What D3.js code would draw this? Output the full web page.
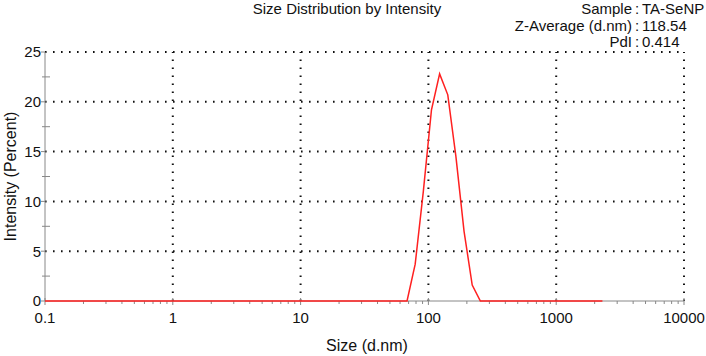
<!DOCTYPE html>
<html>
<head>
<meta charset="utf-8">
<script src="https://cdn.jsdelivr.net/npm/d3@7"></script>
<style>
  body { margin: 0; background: #fff; }
  text { font-family: "Liberation Sans", Arial, sans-serif; fill: #111; }
</style>
</head>
<body>
<div id="chart"></div>
<script>
// size classes (d.nm) and intensity (%)
const sizes = [0.1, 68.06, 78.82, 91.28, 105.7, 122.4, 141.8, 164.2, 190.1, 220.2, 255.0, 2300];
const intensity = [0, 0, 3.7, 11.0, 19.2, 22.8, 20.7, 14.5, 7.0, 1.6, 0, 0];

const xTicks = [0.1, 1, 10, 100, 1000, 10000];
const yTicks = [0, 5, 10, 15, 20, 25];
const yMinor = [2.5, 7.5, 12.5, 17.5, 22.5];

const infoLabels = ["Sample", "Z-Average (d.nm)", "PdI"];
const infoValues = ["TA-SeNP", "118.54", "0.414"];

const width = 706, height = 356;
const margin = {top: 52, right: 22, bottom: 55, left: 45};

const svg = d3.select("#chart").append("svg")
    .attr("width", width)
    .attr("height", height);

const x = d3.scaleLog()
    .domain([0.1, 10000])
    .range([margin.left, width - margin.right]);

const y = d3.scaleLinear()
    .domain([0, 25])
    .range([height - margin.bottom, margin.top]);

// dotted grid
const grid = svg.append("g");
grid.selectAll("line.gx")
    .data(xTicks.slice(1))
    .enter().append("line")
    .attr("class", "gx")
    .attr("x1", d => x(d)).attr("x2", d => x(d))
    .attr("y1", y(0)).attr("y2", y(25))
    .attr("stroke", "#111").attr("stroke-width", 2)
    .attr("stroke-dasharray", "1.6,6.4");
grid.selectAll("line.gy")
    .data(yTicks.slice(1))
    .enter().append("line")
    .attr("class", "gy")
    .attr("x1", x(0.1)).attr("x2", x(10000))
    .attr("y1", d => y(d)).attr("y2", d => y(d))
    .attr("stroke", "#111").attr("stroke-width", 2)
    .attr("stroke-dasharray", "1.6,6.4");

// y axis
const yAxis = svg.append("g").attr("stroke", "#888");
yAxis.append("line")
    .attr("x1", x(0.1)).attr("x2", x(0.1))
    .attr("y1", y(0)).attr("y2", y(25));
yAxis.selectAll("line.ymaj")
    .data(yTicks)
    .enter().append("line")
    .attr("x1", x(0.1) - 4).attr("x2", x(0.1))
    .attr("y1", d => y(d)).attr("y2", d => y(d));
yAxis.selectAll("line.ymin")
    .data(yMinor)
    .enter().append("line")
    .attr("x1", x(0.1) - 3).attr("x2", x(0.1) + 5)
    .attr("y1", d => y(d)).attr("y2", d => y(d));

svg.selectAll("text.ytick")
    .data(yTicks)
    .enter().append("text")
    .attr("class", "ytick")
    .attr("x", x(0.1) - 4)
    .attr("y", d => y(d))
    .attr("dy", "0.36em")
    .attr("text-anchor", "end")
    .style("font-size", "15px")
    .text(d => d);

// x axis
const xMinor = [];
for (let dec = 0.1; dec < 10000; dec *= 10) {
    for (let m = 2; m <= 9; m++) xMinor.push(+(dec * m).toPrecision(3));
}
const xAxis = svg.append("g").attr("stroke", "#888");
xAxis.append("line")
    .attr("x1", x(0.1)).attr("x2", x(10000))
    .attr("y1", y(0)).attr("y2", y(0));
xAxis.selectAll("line.xmin")
    .data(xMinor)
    .enter().append("line")
    .attr("x1", d => x(d)).attr("x2", d => x(d))
    .attr("y1", y(0)).attr("y2", y(0) + 3);
xAxis.selectAll("line.xmaj")
    .data(xTicks)
    .enter().append("line")
    .attr("x1", d => x(d)).attr("x2", d => x(d))
    .attr("y1", y(0) - 3).attr("y2", y(0) + 4);

svg.selectAll("text.xtick")
    .data(xTicks)
    .enter().append("text")
    .attr("class", "xtick")
    .attr("x", d => x(d))
    .attr("y", y(0) + 22)
    .attr("text-anchor", "middle")
    .style("font-size", "15px")
    .text(d => d);

// the distribution
const line = d3.line()
    .x((d, i) => x(sizes[i]))
    .y(d => y(d));

svg.append("path")
    .datum(intensity)
    .attr("d", line)
    .attr("fill", "none")
    .attr("stroke", "#ff2020")
    .attr("stroke-width", 1.5);

// titles
svg.append("text")
    .attr("x", 347).attr("y", 14)
    .attr("text-anchor", "middle")
    .style("font-size", "15px")
    .text("Size Distribution by Intensity");

svg.append("text")
    .attr("x", 367).attr("y", 351)
    .attr("text-anchor", "middle")
    .style("font-size", "16px")
    .text("Size (d.nm)");

svg.append("text")
    .attr("transform", `translate(16,${(y(0) + y(25)) / 2}) rotate(-90)`)
    .attr("text-anchor", "middle")
    .style("font-size", "16px")
    .text("Intensity (Percent)");

// sample info, aligned on the colon
const colonX = 637;
const info = svg.append("g").style("font-size", "15px");
info.selectAll("text.lab")
    .data(infoLabels)
    .enter().append("text")
    .attr("x", colonX - 5)
    .attr("y", (d, i) => 14 + i * 16.5)
    .attr("text-anchor", "end")
    .text(d => d);
info.selectAll("text.colon")
    .data(infoLabels)
    .enter().append("text")
    .attr("x", colonX)
    .attr("y", (d, i) => 14 + i * 16.5)
    .attr("text-anchor", "middle")
    .text(":");
info.selectAll("text.val")
    .data(infoValues)
    .enter().append("text")
    .attr("x", colonX + 5)
    .attr("y", (d, i) => 14 + i * 16.5)
    .text(d => d);
</script>
</body>
</html>
